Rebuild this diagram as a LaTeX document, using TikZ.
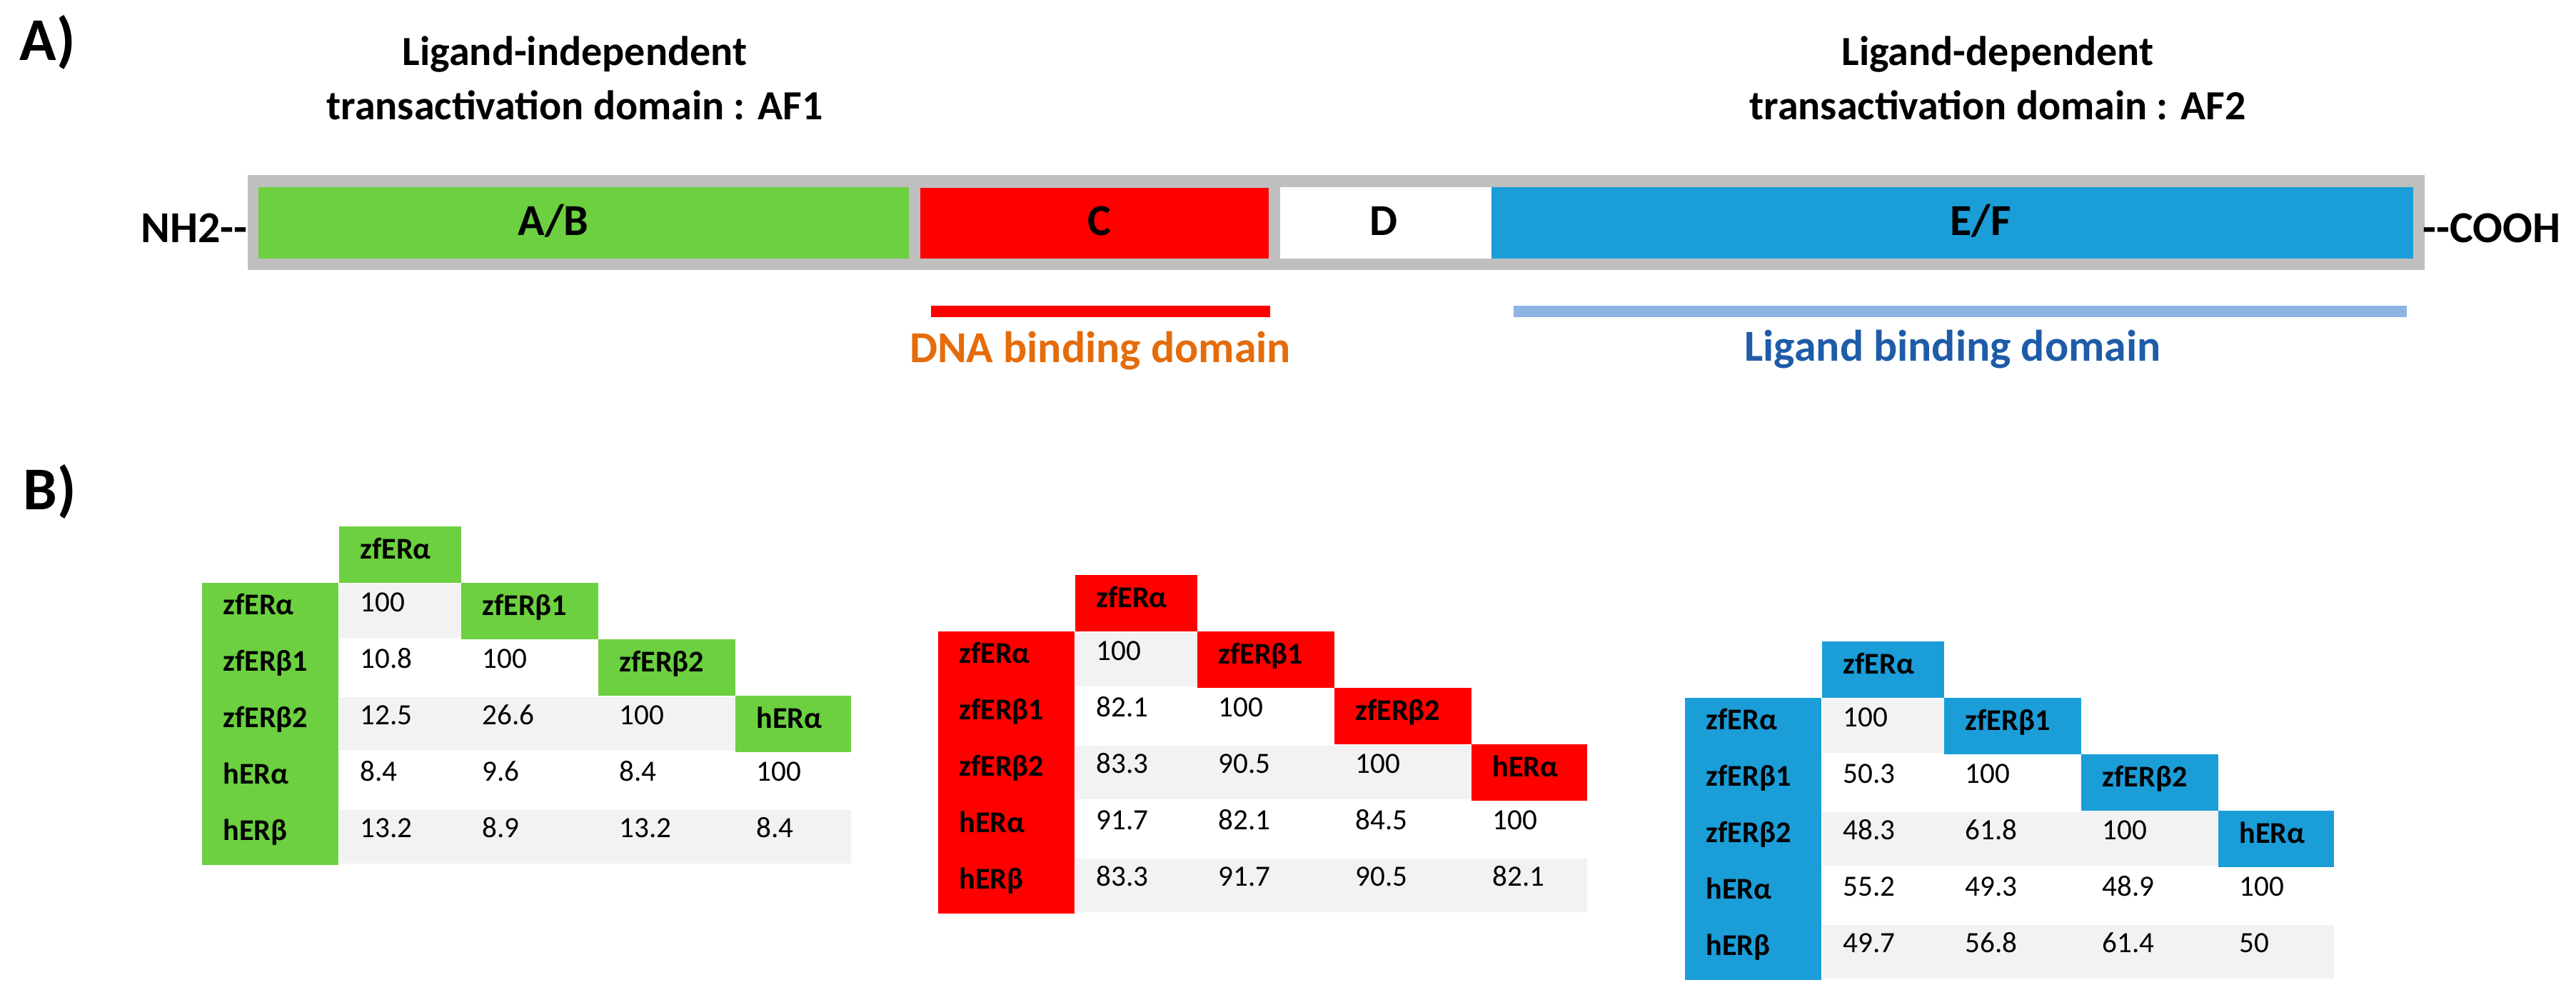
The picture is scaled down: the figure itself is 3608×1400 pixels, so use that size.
\documentclass[tikz,border=0pt]{standalone}
\usepackage{fontspec}
\setmainfont{Carlito}
\definecolor{abgreen}{RGB}{108,208,64}
\definecolor{cred}{RGB}{255,0,0}
\definecolor{efblue}{RGB}{27,157,216}
\definecolor{bargray}{RGB}{191,191,191}
\definecolor{lbdline}{RGB}{141,180,226}
\definecolor{dbdorange}{RGB}{228,108,10}
\definecolor{lbdblue}{RGB}{30,92,168}
\definecolor{stripe}{RGB}{242,242,242}
\tikzset{
  panel/.style={font=\fontsize{24.2pt}{28pt}\selectfont\bfseries, inner sep=0pt, anchor=base west},
  titletext/.style={font=\fontsize{16.5pt}{20pt}\selectfont\bfseries, inner sep=0pt, anchor=base},
  barlabel/.style={font=\fontsize{17.6pt}{21pt}\selectfont\bfseries, inner sep=0pt, anchor=base},
  domlabel/.style={font=\fontsize{17.6pt}{21pt}\selectfont\bfseries, inner sep=0pt, anchor=base},
  cellhead/.style={font=\fontsize{12pt}{14pt}\selectfont\bfseries, inner sep=0pt, anchor=base west},
  celldata/.style={font=\fontsize{11.7pt}{14pt}\selectfont, inner sep=0pt, anchor=base west}
}
% #1 prefix, #2 left x, #3 top y, #4 colour, #5 data
\newcommand\ertable[5]{%
\begin{scope}[shift={(#2,#3)}]
  \fill[#4] (0,0) rectangle (191,395);
  \fill[stripe] (192,2) rectangle (363,77);
  \fill[stripe] (192,160) rectangle (747,235);
  \fill[stripe] (192,318) rectangle (909,393);
  \foreach \r/\rl in {1/zfERα,2/zfERβ1,3/zfERβ2,4/hERα,5/hERβ}
    \node[cellhead] (#1-r\r) at (29,{(\r-1)*79+44}) {\rl};
  \foreach \k/\cl/\cr/\lab in {1/192/363/zfERα,2/363/555/zfERβ1,3/555/747/zfERβ2,4/747/909/hERα}{
    \fill[#4] (\cl,{(\k-2)*79}) rectangle (\cr,{(\k-1)*79});
    \node[cellhead] (#1-c\k) at ({\cl+29},{(\k-2)*79+45}) {\lab};
  }
  \foreach \r/\vals in {#5}{
    \foreach \v [count=\c] in \vals {
      \pgfmathsetmacro\xl{{192,363,555,747}[\c-1]+29}
      \node[celldata] (#1-d\r-\c) at (\xl,{(\r-1)*79+40}) {\v};
    }
  }
\end{scope}}
\begin{document}
\begin{tikzpicture}[x=0.01cm,y=-0.01cm]
\useasboundingbox (0,0) rectangle (3608,1400);
% panel labels
\node[panel] (labA) at (27,85) {A)};
\node[panel] (labB) at (32,713) {B)};
% titles
\node[titletext] (t1a) at (805,92) {Ligand-independent};
\node[titletext] (t1b) at (805,168) {transactivation domain : AF1};
\node[titletext] (t2a) at (2798,92) {Ligand-dependent};
\node[titletext] (t2b) at (2798,168) {transactivation domain : AF2};
% receptor bar
\fill[bargray] (347,245) rectangle (3396,378);
\fill[abgreen] (362,262) rectangle (1273,362);
\fill[cred] (1289,263) rectangle (1777,362);
\fill[white] (1793,262) rectangle (2089,362);
\fill[efblue] (2089,262) rectangle (3380,362);
\node[barlabel] (ab) at (775,330) {A/B};
\node[barlabel] (c) at (1540,330) {C};
\node[barlabel] (d) at (1938,330) {D};
\node[barlabel] (ef) at (2774,330) {E/F};
\node[barlabel, anchor=base east] (nh2) at (347,340) {NH2-{}-};
\node[barlabel, anchor=base west] (cooh) at (3393,340) {-{}-COOH};
% domain lines
\fill[cred] (1304,428) rectangle (1779,444);
\fill[lbdline] (2120,428) rectangle (3371,444);
\node[domlabel, text=dbdorange] (dbd) at (1541,507) {DNA binding domain};
\node[domlabel, text=lbdblue] (lbd) at (2735,505) {Ligand binding domain};
% tables
\ertable{g}{283}{816}{abgreen}{1/{100},2/{10.8,100},3/{12.5,26.6,100},4/{8.4,9.6,8.4,100},5/{13.2,8.9,13.2,8.4}}
\ertable{r}{1314}{884}{cred}{1/{100},2/{82.1,100},3/{83.3,90.5,100},4/{91.7,82.1,84.5,100},5/{83.3,91.7,90.5,82.1}}
\ertable{b}{2360}{977}{efblue}{1/{100},2/{50.3,100},3/{48.3,61.8,100},4/{55.2,49.3,48.9,100},5/{49.7,56.8,61.4,50}}
\end{tikzpicture}
\end{document}
